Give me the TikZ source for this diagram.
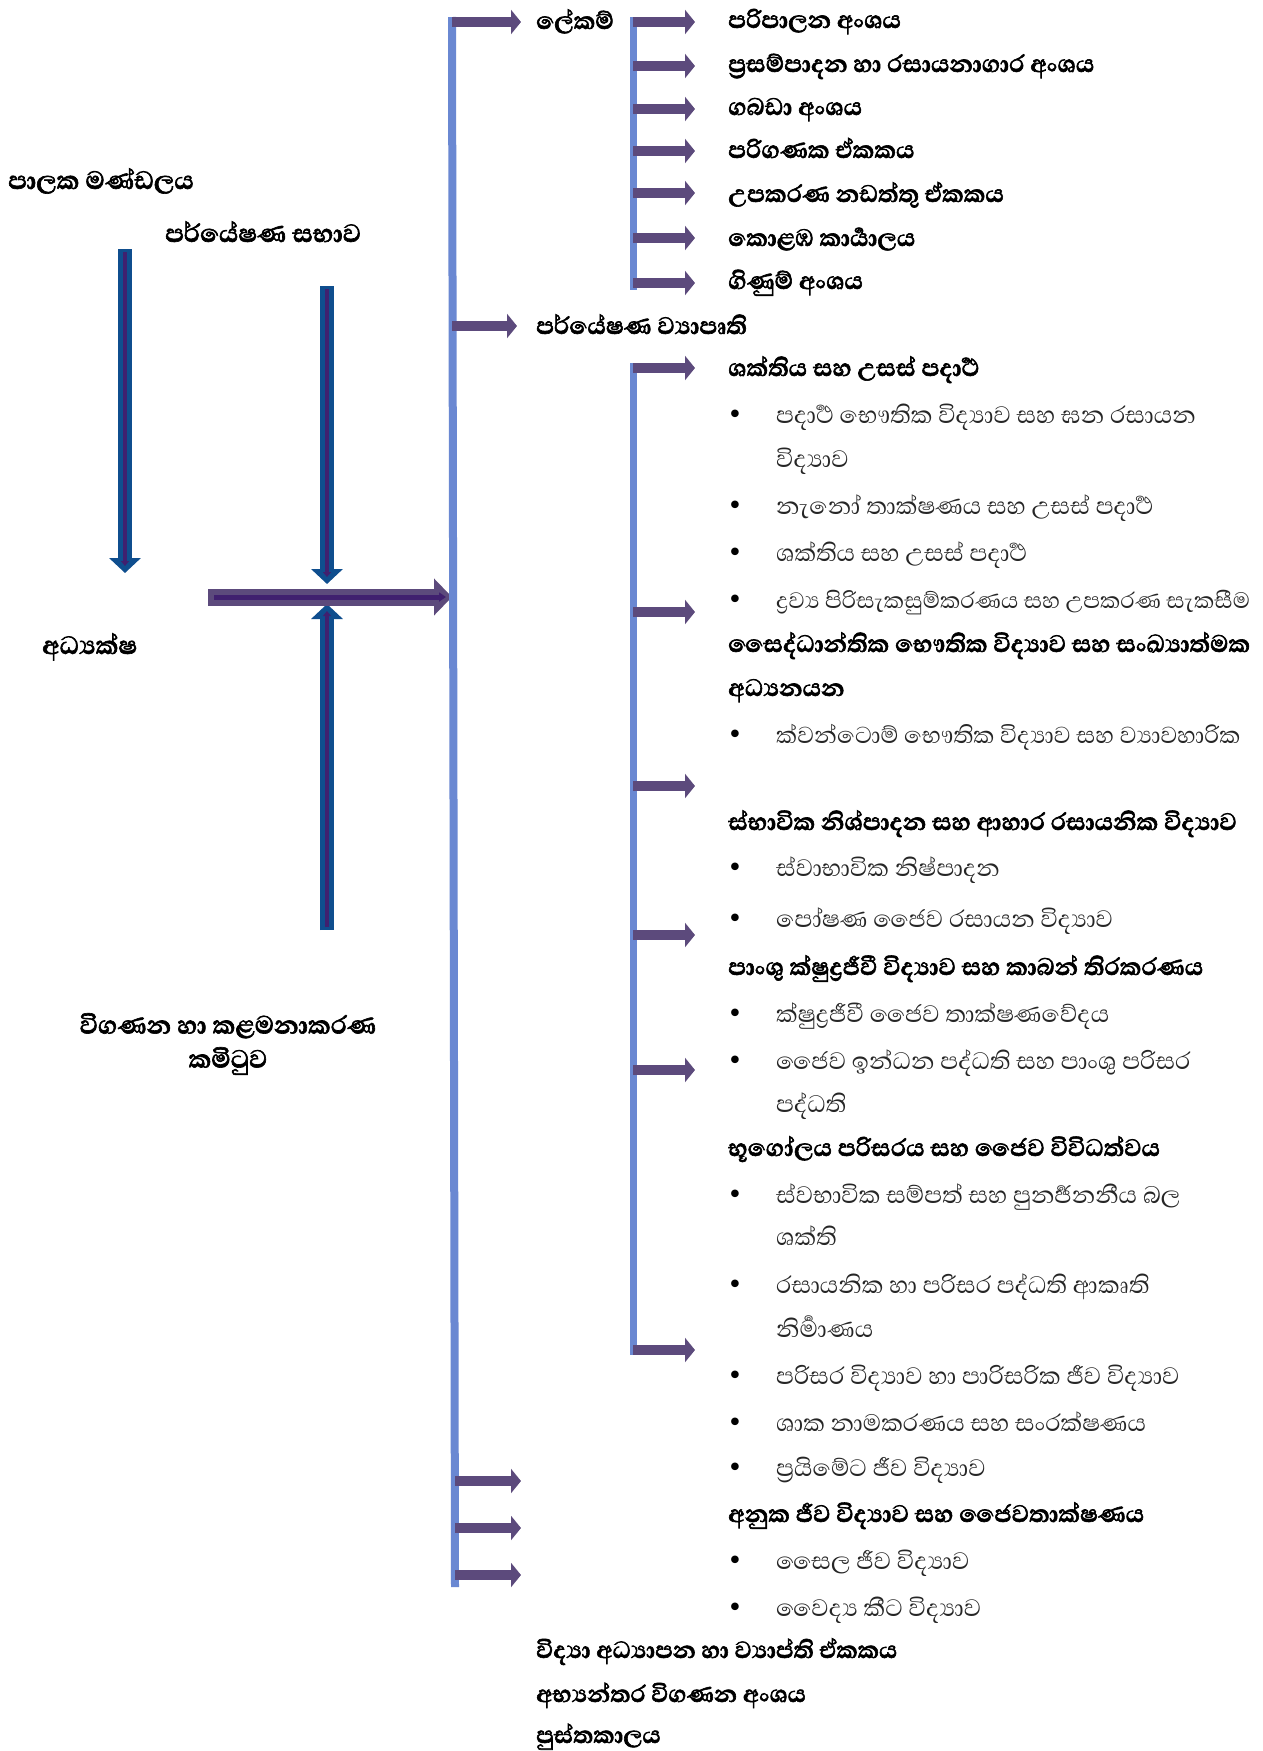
\documentclass[tikz,border=0pt]{standalone}
\usepackage{fontspec}
\usetikzlibrary{arrows.meta}
\newfontfamily\sinhf[Script=Sinhala]{Abhaya Libre}
\newfontfamily\sinhb[Script=Sinhala, FakeBold=2]{Abhaya Libre}
\newfontfamily\dvs{DejaVu Sans}
\definecolor{lineblue}{HTML}{6A88D2}
\definecolor{arrpurple}{HTML}{5C4A7C}
\definecolor{fatblue}{HTML}{0F4E8E}
\definecolor{innerpurple}{HTML}{40206F}
\tikzset{
  hd/.style={anchor=base west, inner sep=0pt, font=\sinhb\bfseries\fontsize{30.5}{36}\selectfont},
  lhd/.style={anchor=base west, inner sep=0pt, font=\sinhb\bfseries\fontsize{32}{36}\selectfont},
  it/.style={anchor=base west, inner sep=0pt, font=\sinhf\fontsize{30.5}{36}\selectfont, text=black!85},
  bul/.style={anchor=base, inner sep=0pt, font=\dvs\fontsize{26}{30}\selectfont},
  trunk/.style={draw=lineblue, line width=8pt},
  brarrow/.style={draw=arrpurple, line width=10pt, -{Triangle[width=24pt,length=10pt]}},
  fatv/.style={draw=fatblue, line width=14pt, -{Triangle[width=31pt,length=15pt]}},
  fatvin/.style={draw=innerpurple, line width=4pt, -{Triangle[width=8pt,length=5pt]}},
  fath/.style={draw=arrpurple, line width=17pt, -{Triangle[width=36pt,length=18pt]}},
  fathin/.style={draw=innerpurple, line width=5pt, -{Triangle[width=9pt,length=7pt]}},
}
\begin{document}
\begin{tikzpicture}[x=1pt,y=-1pt]
\useasboundingbox (0,0) rectangle (1263,1751);
\fill[white] (0,0) rectangle (1263,1751);

% ---------- left part ----------
\node[lhd] (board) at (8,189) {පාලක මණ්ඩලය};
\node[lhd] (council) at (165,242) {පර්යේෂණ සභාව};
\node[lhd] (director) at (42,654) {අධ්^^^^200dයක්ෂ};
\node[font=\sinhb\bfseries\fontsize{32}{34}\selectfont, align=center, inner sep=0pt] (audit) at (228,1044) {විගණන හා කළමනාකරණ\\කමිටුව};

\coordinate (a1s) at (125,249);
\coordinate (a1e) at (125,573);
\coordinate (a1i) at (125,566);
\coordinate (a2s) at (327,286);
\coordinate (a2e) at (327,584);
\coordinate (a2i) at (327,577);
\coordinate (a3s) at (327,930);
\coordinate (a3e) at (327,604);
\coordinate (a3i) at (327,611);
\coordinate (hs) at (208,597);
\coordinate (he) at (452,597);
\coordinate (hi) at (446,597);

\draw[fatv] (a1s) -- (a1e);
\draw[fatvin] (125,252) -- (a1i);
\draw[fatv] (a2s) -- (a2e);
\draw[fatvin] (327,289) -- (a2i);
\draw[fatv] (a3s) -- (a3e);
\draw[fatvin] (327,927) -- (a3i);
\draw[fath] (hs) -- (he);
\draw[fathin] (214,597) -- (hi);

% ---------- trunk lines ----------
\coordinate (mt) at (452,17);
\coordinate (mb) at (455,1587);
\draw[trunk] (mt) -- (mb);
\coordinate (s1t) at (633,17);
\coordinate (s1b) at (633,290);
\draw[trunk, line width=7pt] (s1t) -- (s1b);
\coordinate (s2t) at (633,363);
\coordinate (s2b) at (633,1355);
\draw[trunk, line width=7pt] (s2t) -- (s2b);

% ---------- main branches ----------
\node[hd] (sec) at (536,29) {ලේකම්};
\node[hd] (proj) at (536,334) {පර්යේෂණ ව්^^^^200dයාපෘති};
\node[hd, font=\sinhb\bfseries\fontsize{30}{36}\selectfont] (edu) at (536,1658) {විද්^^^^200dයා අධ්^^^^200dයාපන හා ව්^^^^200dයාප්ති ඒකකය};
\node[hd, font=\sinhb\bfseries\fontsize{30}{36}\selectfont] (intaud) at (536,1702) {අභ්^^^^200dයන්තර විගණන අංශය};
\node[hd, font=\sinhb\bfseries\fontsize{30}{36}\selectfont] (lib) at (536,1743) {පුස්තකාලය};

\coordinate (m0) at (452,22);
\coordinate (m0e) at (521,22);
\coordinate (mp) at (452,326);
\coordinate (mpe) at (517,326);
\draw[brarrow] (m0) -- (m0e);
\draw[brarrow] (mp) -- (mpe);
\coordinate (m1) at (455,1481);
\coordinate (m2) at (455,1528);
\coordinate (m3) at (455,1575);
\draw[brarrow] (m1) -- (521,1481);
\draw[brarrow] (m2) -- (521,1528);
\draw[brarrow] (m3) -- (521,1575);

% ---------- secretariat units ----------
\node[hd] (u1) at (728,28) {පරිපාලන අංශය};
\node[hd] (u2) at (728,72) {ප්^^^^200dරසම්පාදන හා රසායනාගාර අංශය};
\node[hd] (u3) at (728,115) {ගබඩා අංශය};
\node[hd] (u4) at (728,158) {පරිගණක ඒකකය};
\node[hd] (u5) at (728,202) {උපකරණ නඩත්තු ඒකකය};
\node[hd] (u6) at (728,246) {කොළඹ කාර්^^^^200dයාලය};
\node[hd] (u7) at (728,289) {ගිණුම් අංශය};
\foreach \yy in {22,66,109,151,193,238,283}{
  \draw[brarrow] (633,\yy) -- (695,\yy);
}

% ---------- research divisions ----------
\foreach \yy in {368,612,786,935,1070,1350}{
  \draw[brarrow] (633,\yy) -- (695,\yy);
}
\node[hd] (r1) at (728,376) {ශක්තිය සහ උසස් පදාර්^^^^200dථ};
\node[bul] (b11) at (735,423) {•};
\node[it] (r11) at (776,423) {පදාර්^^^^200dථ භෞතික විද්^^^^200dයාව සහ ඝන රසායන};
\node[it] (r11b) at (776,467) {විද්^^^^200dයාව};
\node[bul] (b12) at (735,514) {•};
\node[it] (r12) at (776,514) {නැනෝ තාක්ෂණය සහ උසස් පදාර්^^^^200dථ};
\node[bul] (b13) at (735,561) {•};
\node[it] (r13) at (776,561) {ශක්තිය සහ උසස් පදාර්^^^^200dථ};
\node[bul] (b14) at (735,608) {•};
\node[it, font=\sinhf\fontsize{28.6}{34}\selectfont] (r14) at (776,608) {ද්^^^^200dරව්^^^^200dය පිරිසැකසුම්කරණය සහ උපකරණ සැකසීම};

\node[hd] (r2) at (728,652) {සෛද්ධාන්තික භෞතික විද්^^^^200dයාව සහ සංඛ්^^^^200dයාත්මක};
\node[hd] (r2b) at (728,696) {අධ්^^^^200dයනයන};
\node[bul] (b21) at (735,743) {•};
\node[it, font=\sinhf\fontsize{29.7}{36}\selectfont] (r21) at (776,743) {ක්වන්ටොම් භෞතික විද්^^^^200dයාව සහ ව්^^^^200dයාවහාරික};

\node[hd] (r3) at (728,830) {ස්භාවික නිශ්පාදන සහ ආහාර රසායනික විද්^^^^200dයාව};
\node[bul] (b31) at (735,876) {•};
\node[it] (r31) at (776,876) {ස්වාභාවික නිෂ්පාදන};
\node[bul] (b32) at (735,927) {•};
\node[it] (r32) at (776,927) {පෝෂණ ජෛව රසායන විද්^^^^200dයාව};

\node[hd] (r4) at (728,975) {පාංශු ක්ෂුද්^^^^200dරජීවී විද්^^^^200dයාව සහ කාබන් තිරකරණය};
\node[bul] (b41) at (735,1022) {•};
\node[it] (r41) at (776,1022) {ක්ෂුද්^^^^200dරජීවී ජෛව තාක්ෂණවේදය};
\node[bul] (b42) at (735,1069) {•};
\node[it] (r42) at (776,1069) {ජෛව ඉන්ධන පද්ධති සහ පාංශු පරිසර};
\node[it] (r42b) at (776,1112) {පද්ධති};

\node[hd] (r5) at (728,1156) {භූගෝලය පරිසරය සහ ජෛව විවිධත්වය};
\node[bul] (b51) at (735,1203) {•};
\node[it] (r51) at (776,1203) {ස්වභාවික සම්පත් සහ පුනර්^^^^200dජනනීය බල};
\node[it] (r51b) at (776,1245) {ශක්ති};
\node[bul] (b52) at (735,1293) {•};
\node[it] (r52) at (776,1293) {රසායනික හා පරිසර පද්ධති ආකෘති};
\node[it] (r52b) at (776,1337) {නිර්^^^^200dමාණය};
\node[bul] (b53) at (735,1384) {•};
\node[it] (r53) at (776,1384) {පරිසර විද්^^^^200dයාව හා පාරිසරික ජීව විද්^^^^200dයාව};
\node[bul] (b54) at (735,1431) {•};
\node[it] (r54) at (776,1431) {ශාක නාමකරණය සහ සංරක්ෂණය};
\node[bul] (b55) at (735,1476) {•};
\node[it] (r55) at (776,1476) {ප්^^^^200dරයිමේට ජීව විද්^^^^200dයාව};

\node[hd] (r6) at (728,1522) {අනුක ජීව විද්^^^^200dයාව සහ ජෛවතාක්ෂණය};
\node[bul] (b61) at (735,1569) {•};
\node[it] (r61) at (776,1569) {සෛල ජීව විද්^^^^200dයාව};
\node[bul] (b62) at (735,1616) {•};
\node[it] (r62) at (776,1616) {වෛද්^^^^200dය කීට විද්^^^^200dයාව};
\end{tikzpicture}
\end{document}
